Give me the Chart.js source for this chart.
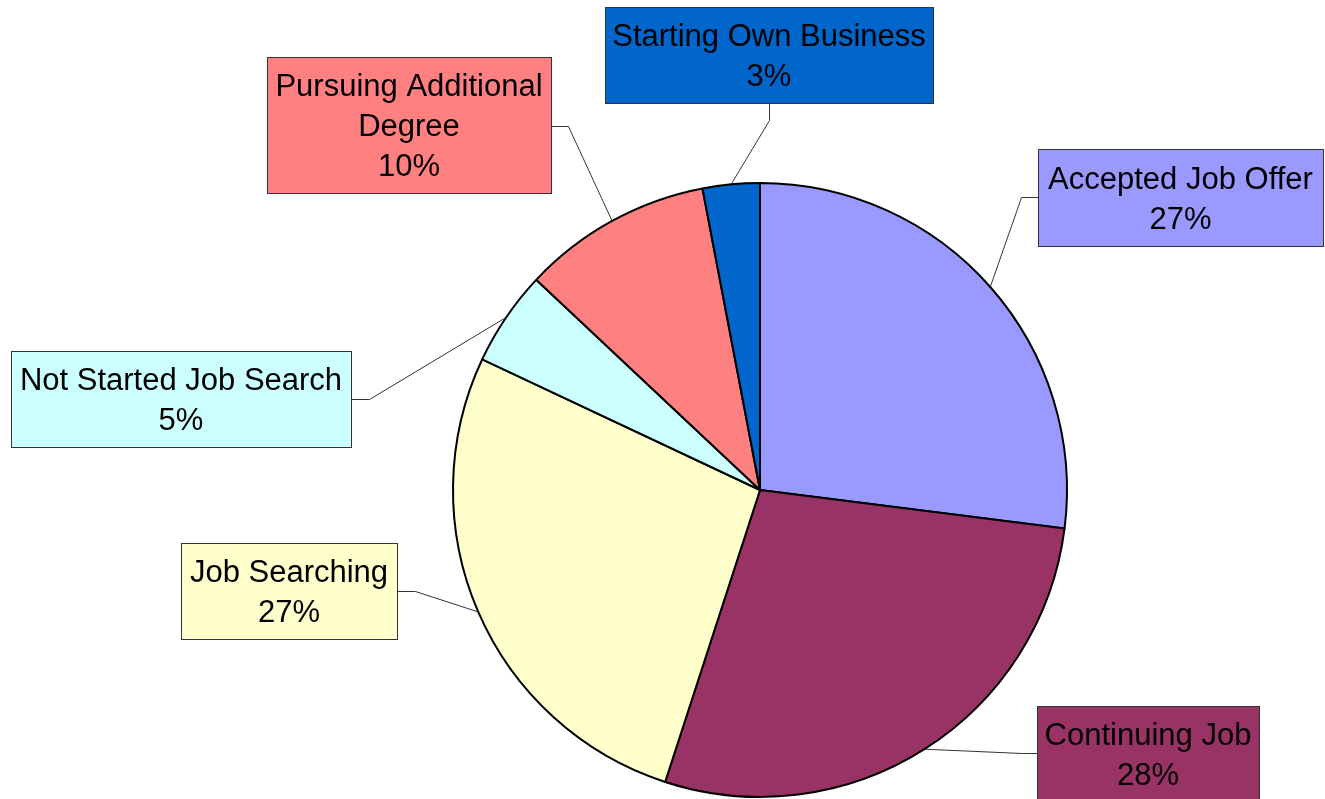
<!DOCTYPE html>
<html>
<head>
<meta charset="utf-8">
<script src="https://cdn.jsdelivr.net/npm/chart.js@4/dist/chart.umd.min.js"></script>
<style>
  html, body { margin: 0; padding: 0; background: #ffffff; }
  #wrap { width: 1325px; height: 799px; position: relative; }
</style>
</head>
<body>
<div id="wrap"><canvas id="c" width="1325" height="799"></canvas></div>
<script>
const categories = [
  "Accepted Job Offer",
  "Continuing Job",
  "Job Searching",
  "Not Started Job Search",
  "Pursuing Additional Degree",
  "Starting Own Business"
];
const percentages = [27, 28, 27, 5, 10, 3];
const labelLines = [
  ["Accepted Job Offer"],
  ["Continuing Job"],
  ["Job Searching"],
  ["Not Started Job Search"],
  ["Pursuing Additional", "Degree"],
  ["Starting Own Business"]
];
const sliceColors = ["#9999FF", "#993366", "#FFFFCC", "#CCFFFF", "#FF8080", "#0066CC"];

// Label-box layout (annotation placement, not data)
const boxLayout = [
  { x: 1038, y: 149, w: 285, h: 97, side: "left",   at: 197, elbow: 1021 },
  { x: 1037, y: 706, w: 222, h: 96, side: "left",   at: 753, elbow: 1022 },
  { x: 181,  y: 543, w: 216, h: 96, side: "right",  at: 591, elbow: 415 },
  { x: 11,   y: 351, w: 340, h: 96, side: "right",  at: 399, elbow: 369 },
  { x: 267,  y: 57,  w: 284, h: 136, side: "right", at: 126, elbow: 568 },
  { x: 605,  y: 7,   w: 328, h: 96, side: "bottom", at: 769, elbow: 120 }
];

const calloutPlugin = {
  id: "callouts",
  afterDatasetsDraw(chart) {
    const ctx = chart.ctx;
    const meta = chart.getDatasetMeta(0);
    ctx.save();
    meta.data.forEach((arc, i) => {
      const b = boxLayout[i];
      const mid = (arc.startAngle + arc.endAngle) / 2;
      const px = arc.x + Math.cos(mid) * arc.outerRadius;
      const py = arc.y + Math.sin(mid) * arc.outerRadius;
      let sx, sy, ex, ey;
      if (b.side === "left") { sx = b.x; sy = b.at; ex = b.elbow; ey = b.at; }
      else if (b.side === "right") { sx = b.x + b.w; sy = b.at; ex = b.elbow; ey = b.at; }
      else { sx = b.at; sy = b.y + b.h; ex = b.at; ey = b.elbow; }
      ctx.strokeStyle = "#333333";
      ctx.lineWidth = 1;
      ctx.beginPath();
      ctx.moveTo(sx + 0.5, sy + 0.5);
      ctx.lineTo(ex + 0.5, ey + 0.5);
      ctx.lineTo(px, py);
      ctx.stroke();

      ctx.fillStyle = sliceColors[i];
      ctx.fillRect(b.x, b.y, b.w, b.h);
      ctx.strokeStyle = "#333333";
      ctx.lineWidth = 1;
      ctx.strokeRect(b.x + 0.5, b.y + 0.5, b.w, b.h);

      const lines = labelLines[i].concat([percentages[i] + "%"]);
      const lineH = 40;
      const top = b.y + (b.h - lines.length * lineH) / 2;
      ctx.fillStyle = "#000000";
      ctx.font = "31px 'Liberation Sans', Arial, sans-serif";
      ctx.textAlign = "center";
      ctx.textBaseline = "alphabetic";
      lines.forEach((t, k) => {
        ctx.fillText(t, b.x + b.w / 2, top + k * lineH + 31);
      });
    });
    ctx.restore();
  }
};

new Chart(document.getElementById("c"), {
  type: "pie",
  data: {
    labels: categories,
    datasets: [{
      data: percentages,
      backgroundColor: sliceColors,
      borderColor: "#000000",
      borderWidth: 2
    }]
  },
  options: {
    responsive: false,
    animation: false,
    radius: 307,
    layout: { padding: { left: 200, right: 5, top: 181, bottom: 0 } },
    plugins: {
      legend: { display: false },
      tooltip: { enabled: false }
    }
  },
  plugins: [calloutPlugin]
});
</script>
</body>
</html>
